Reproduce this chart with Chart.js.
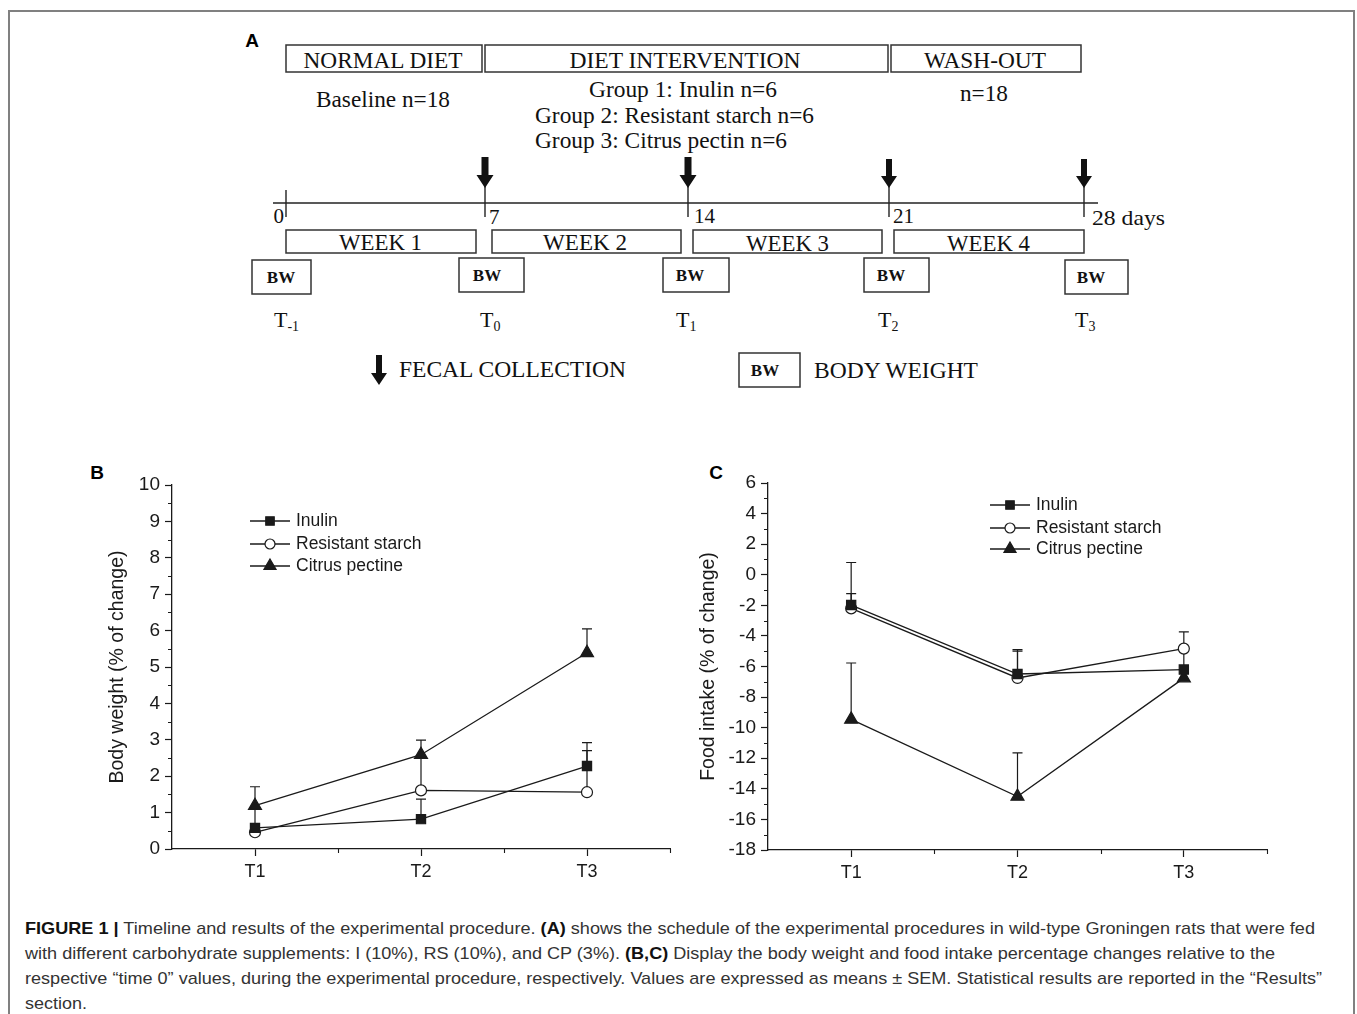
<!DOCTYPE html>
<html>
<head>
<meta charset="utf-8">
<title>Figure 1</title>
<script src="https://cdn.jsdelivr.net/npm/chart.js@4.4.1/dist/chart.umd.min.js"></script>
<style>
  html, body { margin: 0; padding: 0; background: #fff; overflow: hidden; }
  body { width: 1357px; height: 1014px; position: relative; }
  .frame { position: absolute; left: 8px; top: 10px; width: 1347px; height: 1100px;
           border: 2px solid #808080; box-sizing: border-box; }
  .panel-tag { position: absolute; font: bold 19px "Liberation Sans", Arial, sans-serif; color: #000;
               transform: translate(-50%, -50%); }
  canvas { position: absolute; }
  .caption { position: absolute; left: 25px; font: 17px "Liberation Sans", Arial, sans-serif;
             color: #333; white-space: nowrap; transform-origin: left center; line-height: 1; }
  .caption b { color: #111; }
</style>
</head>
<body>
<div class="frame"></div>

<!-- panel A: timeline schematic -->
<svg id="panelA" width="1357" height="450" style="position:absolute;left:0;top:0"
     font-family="Liberation Serif, Times New Roman, serif" fill="#111">
  <g fill="none" stroke="#333" stroke-width="1.5">
    <rect x="286" y="45" width="196" height="27"/>
    <rect x="485" y="45" width="403" height="27"/>
    <rect x="891" y="45" width="190" height="27"/>
    <rect x="286" y="230" width="190" height="23"/>
    <rect x="492" y="230" width="189" height="23"/>
    <rect x="693" y="230" width="189" height="23"/>
    <rect x="894" y="230" width="190" height="23"/>
    <rect x="252" y="260" width="59" height="34"/>
    <rect x="459" y="258" width="65" height="34"/>
    <rect x="663" y="258" width="66" height="34"/>
    <rect x="864" y="258" width="65" height="34"/>
    <rect x="1065" y="260" width="63" height="34"/>
    <rect x="739" y="353" width="61" height="34"/>
  </g>
  <g stroke="#222" stroke-width="1.4">
    <line x1="273" y1="203" x2="1098" y2="203"/>
    <line x1="286" y1="190" x2="286" y2="217"/>
    <line x1="485" y1="186" x2="485" y2="217"/>
    <line x1="688" y1="186" x2="688" y2="217"/>
    <line x1="889" y1="186" x2="889" y2="217"/>
    <line x1="1084" y1="186" x2="1084" y2="217"/>
  </g>
  <g fill="#111">
    <path d="M481.5,157 h7 v18 h5 l-8.5,13 l-8.5,-13 h5 z"/>
    <path d="M684.5,157 h7 v18 h5 l-8.5,13 l-8.5,-13 h5 z"/>
    <path d="M886,159 h6 v17 h5 l-8,12 l-8,-12 h5 z"/>
    <path d="M1081,159 h6 v17 h5 l-8,12 l-8,-12 h5 z"/>
    <path d="M376,355 h6 v18 h5 l-8,12 l-8,-12 h5 z"/>
  </g>
  <g font-size="23" dominant-baseline="central" lengthAdjust="spacingAndGlyphs">
    <text x="383" y="60" text-anchor="middle" textLength="159" lengthAdjust="spacingAndGlyphs">NORMAL DIET</text>
    <text x="685" y="60" text-anchor="middle" textLength="231" lengthAdjust="spacingAndGlyphs">DIET INTERVENTION</text>
    <text x="985" y="60" text-anchor="middle" textLength="122" lengthAdjust="spacingAndGlyphs">WASH-OUT</text>
    <text x="316" y="99" textLength="134" lengthAdjust="spacingAndGlyphs">Baseline  n=18</text>
    <text x="589" y="89" textLength="188" lengthAdjust="spacingAndGlyphs">Group 1: Inulin  n=6</text>
    <text x="535" y="115" textLength="279" lengthAdjust="spacingAndGlyphs">Group 2: Resistant starch n=6</text>
    <text x="535" y="140" textLength="252" lengthAdjust="spacingAndGlyphs">Group 3: Citrus pectin n=6</text>
    <text x="960" y="93" textLength="48" lengthAdjust="spacingAndGlyphs">n=18</text>
    <text x="339" y="242" textLength="83" lengthAdjust="spacingAndGlyphs">WEEK 1</text>
    <text x="543" y="242" textLength="84" lengthAdjust="spacingAndGlyphs">WEEK 2</text>
    <text x="746" y="243" textLength="83" lengthAdjust="spacingAndGlyphs">WEEK 3</text>
    <text x="947" y="243" textLength="83" lengthAdjust="spacingAndGlyphs">WEEK 4</text>
    <text x="399" y="369" textLength="227" lengthAdjust="spacingAndGlyphs">FECAL COLLECTION</text>
    <text x="814" y="370" textLength="164" lengthAdjust="spacingAndGlyphs">BODY WEIGHT</text>
  </g>
  <g font-size="21" dominant-baseline="central">
    <text x="284" y="216" text-anchor="end">0</text>
    <text x="489" y="217">7</text>
    <text x="694" y="216">14</text>
    <text x="893" y="216">21</text>
    <text x="1092" y="218" textLength="73" lengthAdjust="spacingAndGlyphs">28 days</text>
  </g>
  <g font-size="17" font-weight="bold" text-anchor="middle" dominant-baseline="central">
    <text x="281" y="277">BW</text>
    <text x="487" y="275">BW</text>
    <text x="690" y="275">BW</text>
    <text x="891" y="275">BW</text>
    <text x="1091" y="277">BW</text>
    <text x="765" y="370">BW</text>
  </g>
  <g font-size="22">
    <text x="274" y="327">T<tspan font-size="14" dy="4">-1</tspan></text>
    <text x="480" y="327">T<tspan font-size="14" dy="4">0</tspan></text>
    <text x="676" y="327">T<tspan font-size="14" dy="4">1</tspan></text>
    <text x="878" y="327">T<tspan font-size="14" dy="4">2</tspan></text>
    <text x="1075" y="327">T<tspan font-size="14" dy="4">3</tspan></text>
  </g>
</svg>
<div class="panel-tag" style="left:252px;top:41px">A</div>
<div class="panel-tag" style="left:97px;top:473px">B</div>
<div class="panel-tag" style="left:716px;top:473px">C</div>

<canvas id="chartB" width="610" height="420" style="left:80px;top:460px"></canvas>
<canvas id="chartC" width="610" height="420" style="left:680px;top:460px"></canvas>

<div class="caption" data-w="1290" style="top:920px"><b>FIGURE 1 |</b> Timeline and results of the experimental procedure. <b>(A)</b> shows the schedule of the experimental procedures in wild-type Groningen rats that were fed</div>
<div class="caption" data-w="1250" style="top:945px">with different carbohydrate supplements: I (10%), RS (10%), and CP (3%). <b>(B,C)</b> Display the body weight and food intake percentage changes relative to the</div>
<div class="caption" data-w="1297" style="top:970px">respective “time 0” values, during the experimental procedure, respectively. Values are expressed as means ± SEM. Statistical results are reported in the “Results”</div>
<div class="caption" data-w="62" style="top:995px">section.</div>

<script>
// ---- data ----
const timepoints = ['T1', 'T2', 'T3'];
const seriesNames = ['Inulin', 'Resistant starch', 'Citrus pectine'];

// B: body weight, % of change (means and SEM)
const bwInulin = [0.58, 0.82, 2.28];
const bwStarch = [0.46, 1.61, 1.56];
const bwPectin = [1.19, 2.59, 5.39];
const bwInulinSem = [0.57, 0.55, 0.64];
const bwStarchSem = [0.12, 0.94, 1.14];
const bwPectinSem = [0.52, 0.40, 0.66];
const bwTicks = [0, 1, 2, 3, 4, 5, 6, 7, 8, 9, 10];
const bwMinor = [0.5, 1.5, 2.5, 3.5, 4.5, 5.5, 6.5, 7.5, 8.5, 9.5];

// C: food intake, % of change (means and SEM)
const fiInulin = [-1.98, -6.49, -6.20];
const fiStarch = [-2.20, -6.75, -4.83];
const fiPectin = [-9.46, -14.50, -6.76];
const fiInulinSem = [0.74, 1.49, 1.30];
const fiStarchSem = [3.00, 1.86, 1.09];
const fiPectinSem = [3.69, 2.85, 0.55];
const fiTicks = [-18, -16, -14, -12, -10, -8, -6, -4, -2, 0, 2, 4, 6];
const fiMinor = [-17, -15, -13, -11, -9, -7, -5, -3, -1, 1, 3, 5];

const xMinor = [1.5, 2.5, 3.5];

const INK = '#1a1a1a';
const FONT = '"Liberation Sans", Arial, sans-serif';

// error bars (upper SEM), minor ticks and the line+marker legend
const extras = {
  id: 'extras',
  beforeDatasetsDraw(chart) {
    const {ctx} = chart;
    const xs = chart.scales.x, ys = chart.scales.y;
    ctx.save();
    ctx.strokeStyle = INK;
    ctx.lineWidth = 1.2;
    chart.data.datasets.forEach(ds => {
      ds.data.forEach((p, i) => {
        const px = xs.getPixelForValue(p.x);
        const y0 = ys.getPixelForValue(p.y);
        const y1 = ys.getPixelForValue(p.y + ds.sem[i]);
        ctx.beginPath();
        ctx.moveTo(px, y0); ctx.lineTo(px, y1);
        ctx.moveTo(px - 5, y1); ctx.lineTo(px + 5, y1);
        ctx.stroke();
      });
    });
    ctx.restore();
  },
  afterDraw(chart, args, opts) {
    const {ctx, chartArea} = chart;
    const xs = chart.scales.x, ys = chart.scales.y;
    ctx.save();
    ctx.strokeStyle = INK;
    ctx.lineWidth = 1.1;
    ctx.beginPath();
    opts.minorY.forEach(v => {
      const py = Math.round(ys.getPixelForValue(v)) + 0.5;
      ctx.moveTo(chartArea.left, py); ctx.lineTo(chartArea.left - 4, py);
    });
    opts.minorX.forEach(v => {
      const px = Math.round(xs.getPixelForValue(v)) + 0.5;
      ctx.moveTo(px, chartArea.bottom); ctx.lineTo(px, chartArea.bottom + 4);
    });
    ctx.stroke();

    const lg = opts.legend;
    ctx.font = '17.5px ' + FONT;
    ctx.textBaseline = 'middle';
    ctx.fillStyle = INK;
    chart.data.datasets.forEach((ds, k) => {
      const ry = lg.rows[k];
      ctx.lineWidth = 1.3;
      ctx.beginPath();
      ctx.moveTo(lg.x, ry); ctx.lineTo(lg.x + 40, ry);
      ctx.stroke();
      ctx.fillStyle = ds.pointBackgroundColor;
      ctx.lineWidth = ds.pointBorderWidth;
      Chart.helpers.drawPoint(ctx, {
        pointStyle: ds.pointStyle, radius: ds.pointRadius - 0.5, rotation: 0,
        borderWidth: ds.pointBorderWidth
      }, lg.x + 20, ry);
      ctx.fillStyle = INK;
      ctx.fillText(ds.label, lg.x + 46, ry);
    });
    ctx.restore();
  }
};

function pts(vals) {
  return vals.map((v, i) => ({x: i + 1, y: v}));
}

function seriesSet(vals, sems) {
  const styles = [
    {pointStyle: 'rect', pointRadius: 6.5, pointBackgroundColor: INK},
    {pointStyle: 'circle', pointRadius: 5.5, pointBackgroundColor: '#fff'},
    {pointStyle: 'triangle', pointRadius: 7.5, pointBackgroundColor: INK},
  ];
  return seriesNames.map((name, k) => Object.assign({
    label: name, data: pts(vals[k]), sem: sems[k],
    borderColor: INK, borderWidth: 1.3,
    pointBorderColor: INK, pointBorderWidth: 1.2, tension: 0,
  }, styles[k]));
}

function makeChart(id, o) {
  const tickFont = {family: FONT, size: 19};
  return new Chart(document.getElementById(id), {
    type: 'line',
    data: {datasets: seriesSet(o.vals, o.sems)},
    options: {
      responsive: false, animation: false, devicePixelRatio: 1,
      layout: {padding: o.pad},
      plugins: {
        legend: {display: false}, tooltip: {enabled: false},
        extras: {minorX: xMinor, minorY: o.minorY, legend: o.legend},
      },
      scales: {
        x: {
          type: 'linear', min: 0.5, max: 3.5,
          afterBuildTicks: s => { s.ticks = timepoints.map((_, i) => ({value: i + 1})); },
          ticks: {callback: v => timepoints[Math.round(v) - 1], font: {family: FONT, size: 18},
                  color: INK, padding: 5, maxRotation: 0},
          grid: {drawOnChartArea: false, tickLength: 7, color: INK, tickWidth: 1.2},
          border: {color: INK, width: 1.3},
          afterFit: s => { s.height = o.xHeight; },
        },
        y: {
          min: o.yTicks[0], max: o.yTicks[o.yTicks.length - 1],
          afterBuildTicks: s => { s.ticks = o.yTicks.map(v => ({value: v})); },
          ticks: {font: tickFont, color: INK, padding: 5},
          grid: {drawOnChartArea: false, tickLength: 7, color: INK, tickWidth: 1.2},
          border: {color: INK, width: 1.3},
          title: {display: true, text: o.title, color: INK, font: {family: FONT, size: 19.5},
                  padding: {top: o.titlePad, bottom: 0}},
          afterFit: s => { s.width = o.yWidth; },
        },
      },
    },
    plugins: [extras],
  });
}

makeChart('chartB', {
  vals: [bwInulin, bwStarch, bwPectin],
  sems: [bwInulinSem, bwStarchSem, bwPectinSem],
  yTicks: bwTicks, minorY: bwMinor,
  title: 'Body weight (% of change)',
  pad: {top: 25, right: 20, left: 0, bottom: 0},
  yWidth: 92, xHeight: 31, titlePad: 26,
  legend: {x: 170, rows: [61, 84, 106]},
});

makeChart('chartC', {
  vals: [fiInulin, fiStarch, fiPectin],
  sems: [fiInulinSem, fiStarchSem, fiPectinSem],
  yTicks: fiTicks, minorY: fiMinor,
  title: 'Food intake (% of change)',
  pad: {top: 23, right: 23, left: 0, bottom: 0},
  yWidth: 88, xHeight: 30, titlePad: 17,
  legend: {x: 310, rows: [45, 68, 89]},
});

// squeeze caption lines to the widths of the printed figure
document.querySelectorAll('.caption').forEach(el => {
  const w = el.getBoundingClientRect().width;
  const target = +el.dataset.w;
  el.style.transform = `scaleX(${(target / w).toFixed(4)})`;
});
</script>
</body>
</html>
